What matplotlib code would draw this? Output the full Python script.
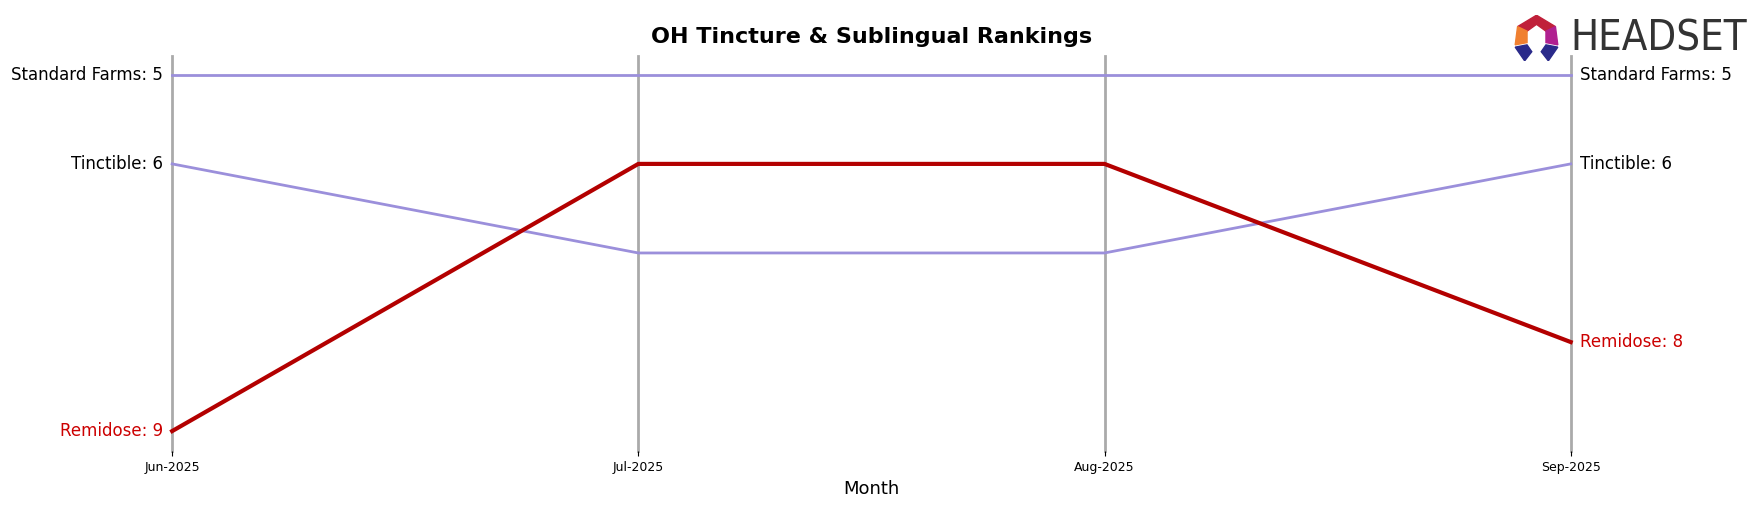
import matplotlib
matplotlib.use("Agg")
import matplotlib.pyplot as plt
from matplotlib.patches import Polygon

months = ["Jun-2025", "Jul-2025", "Aug-2025", "Sep-2025"]
brands = ["Standard Farms", "Tinctible", "Remidose"]
ranks = {
    "Standard Farms": [5, 5, 5, 5],
    "Tinctible": [6, 7, 7, 6],
    "Remidose": [9, 6, 6, 8],
}
colors = {"Standard Farms": "#9b8fdb", "Tinctible": "#9b8fdb", "Remidose": "#b30000"}
widths = {"Standard Farms": 2, "Tinctible": 2, "Remidose": 3}
label_colors = {"Standard Farms": "black", "Tinctible": "black", "Remidose": "#cc0000"}

fig = plt.figure(figsize=(17.53, 5.07), dpi=100)
ax = fig.add_axes([0.0982, 0.110, 0.896 - 0.0982, 0.890 - 0.110])
x = list(range(len(months)))
for xi in x:
    ax.axvline(xi, color="#aaaaaa", lw=2, zorder=0, clip_on=False)
for b in brands:
    ax.plot(x, ranks[b], color=colors[b], lw=widths[b], clip_on=False)
    ax.text(-0.02, ranks[b][0], f"{b}: {ranks[b][0]}", ha="right", va="center",
            fontsize=12, color=label_colors[b])
    ax.text(3.02, ranks[b][-1], f"{b}: {ranks[b][-1]}", ha="left", va="center",
            fontsize=12, color=label_colors[b])
ax.set_xlim(0, 3)
ax.set_ylim(9.226, 4.786)
ax.set_xticks(x)
ax.set_xticklabels(months, fontsize=9)
ax.set_yticks([])
for s in ax.spines.values():
    s.set_visible(False)
ax.set_xlabel("Month", fontsize=13)
fig.text(0.497, 0.927, "OH Tincture & Sublingual Rankings", ha="center", va="center",
         fontsize=16, fontweight="bold")

# logo
fig.text(0.896, 0.925, "HEADSET", fontsize=30, color="#333333", ha="left", va="center",
         fontfamily="DejaVu Sans", fontstretch="condensed")
lax = fig.add_axes([0.863, 0.88, 0.027, 0.09])
lax.axis("off")
lax.set_xlim(0, 1); lax.set_ylim(0, 1)
lax.add_patch(Polygon([[0.1, 0.75], [0.5, 1.0], [0.9, 0.75], [0.7, 0.65], [0.5, 0.8], [0.3, 0.65]], color="#c0203a"))
lax.add_patch(Polygon([[0.1, 0.75], [0.3, 0.65], [0.3, 0.4], [0.05, 0.35]], color="#f08030"))
lax.add_patch(Polygon([[0.9, 0.75], [0.7, 0.65], [0.7, 0.4], [0.95, 0.35]], color="#b02090"))
lax.add_patch(Polygon([[0.05, 0.3], [0.3, 0.35], [0.4, 0.2], [0.25, 0.0]], color="#2a2a8a"))
lax.add_patch(Polygon([[0.95, 0.3], [0.7, 0.35], [0.6, 0.2], [0.75, 0.0]], color="#2a2a8a"))

fig.savefig("out.png", dpi=100)
